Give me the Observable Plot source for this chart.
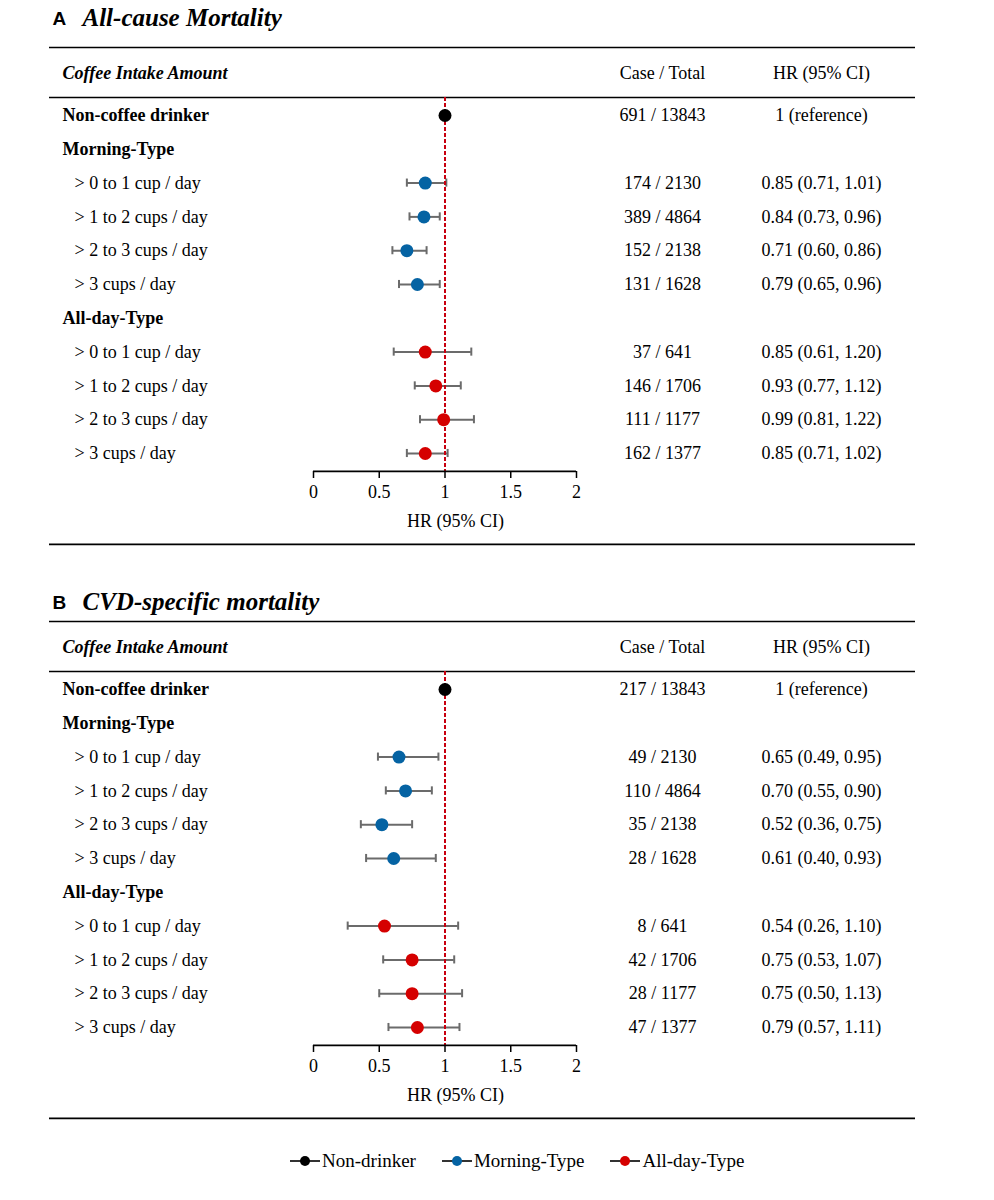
<!DOCTYPE html>
<html>
<head>
<meta charset="utf-8">
<script src="https://cdn.jsdelivr.net/npm/d3@7"></script>
<script src="https://cdn.jsdelivr.net/npm/@observablehq/plot@0.6"></script>
<style>
  body { margin: 0; background: #fff; }
  #chart { width: 994px; }
  #chart svg { display: block; }
  .legend { height: 26px; display: flex; justify-content: flex-start; align-items: center;
    font-family: "Liberation Serif", "Times New Roman", serif; font-size: 19px; color: #000; padding-left: 290px; }
  .legend .item { display: flex; align-items: center; margin-right: 26px; }
  .legend svg { margin-right: 2px; }
</style>
</head>
<body>
<div id="chart"></div>
<script>
// ---- data ----
const rowLabels = ["Non-coffee drinker", "Morning-Type", "> 0 to 1 cup / day", "> 1 to 2 cups / day", "> 2 to 3 cups / day", "> 3 cups / day",
  "All-day-Type", "> 0 to 1 cup / day", "> 1 to 2 cups / day", "> 2 to 3 cups / day", "> 3 cups / day"];
const rowKinds = ["ref", "group", "item", "item", "item", "item", "group", "item", "item", "item", "item"];
const rowGroups = ["Non-drinker", null, "Morning-Type", "Morning-Type", "Morning-Type", "Morning-Type",
  null, "All-day-Type", "All-day-Type", "All-day-Type", "All-day-Type"];
const legendGroups = ["Non-drinker", "Morning-Type", "All-day-Type"];
const groupColors = ["#000000", "#0563a3", "#d50000"];

const titleA = "All-cause Mortality";
const casesA = [691, null, 174, 389, 152, 131, null, 37, 146, 111, 162];
const totalsA = [13843, null, 2130, 4864, 2138, 1628, null, 641, 1706, 1177, 1377];
const hrA = [1, null, 0.85, 0.84, 0.71, 0.79, null, 0.85, 0.93, 0.99, 0.85];
const loA = [1, null, 0.71, 0.73, 0.60, 0.65, null, 0.61, 0.77, 0.81, 0.71];
const hiA = [1, null, 1.01, 0.96, 0.86, 0.96, null, 1.20, 1.12, 1.22, 1.02];

const titleB = "CVD-specific mortality";
const casesB = [217, null, 49, 110, 35, 28, null, 8, 42, 28, 47];
const totalsB = [13843, null, 2130, 4864, 2138, 1628, null, 641, 1706, 1177, 1377];
const hrB = [1, null, 0.65, 0.70, 0.52, 0.61, null, 0.54, 0.75, 0.75, 0.79];
const loB = [1, null, 0.49, 0.55, 0.36, 0.40, null, 0.26, 0.53, 0.50, 0.57];
const hiB = [1, null, 0.95, 0.90, 0.75, 0.93, null, 1.10, 1.07, 1.13, 1.11];

const xTicks = [0, 0.5, 1, 1.5, 2];
const refValue = 1;
const headerLabels = ["Coffee Intake Amount", "Case / Total", "HR (95% CI)"];
const axisTitle = "HR (95% CI)";

// ---- drawing ----
const serif = "'Liberation Serif', 'Times New Roman', serif";
const f2 = d3.format(".2f");
const FS = 18;

function panel(letter, title, cases, totals, hr, lo, hi, titleY) {
  const rows = rowLabels.map((label, i) => ({
    i, label, kind: rowKinds[i], group: rowGroups[i],
    ct: cases[i] == null ? null : `${cases[i]} / ${totals[i]}`,
    hr: hr[i], lo: lo[i], hi: hi[i],
    hrText: hr[i] == null ? null : (rowKinds[i] === "ref" ? `${hr[i]} (reference)` : `${f2(hr[i])} (${f2(lo[i])}, ${f2(hi[i])})`)
  }));
  const items = rows.filter(d => d.kind === "item");
  const pts = rows.filter(d => d.hr != null);
  // layout rows (in row-index units)
  const topRule = -2.012, headY = -1.243, headRule = -0.533, axisY = 10.53, axisTitleY = 12.0, bottomRule = 12.69;
  const capH = 0.12;
  return Plot.plot({
    width: 994,
    height: 574,
    marginLeft: 49,
    marginRight: 79,
    marginTop: 0,
    marginBottom: 103,
    style: { fontFamily: serif, fontSize: FS + "px", color: "#000", background: "#fff" },
    x: { domain: d3.extent(xTicks), range: [313, 576], axis: null },
    y: { domain: [0, 10], range: [115, 453], axis: null },
    color: { domain: legendGroups, range: groupColors },
    marks: [
      // panel title
      Plot.text([letter], { frameAnchor: "left", y: [titleY], dx: 3, textAnchor: "start", fontFamily: "'Liberation Sans', Arial, sans-serif", fontWeight: "bold", fontSize: 19 }),
      Plot.text([title], { frameAnchor: "left", y: [titleY], dx: 33, textAnchor: "start", fontFamily: serif, fontWeight: "bold", fontStyle: "italic", fontSize: 25 }),
      // table rules
      Plot.ruleY([topRule, headRule, bottomRule], { stroke: "#000", strokeWidth: 1.6 }),
      // header
      Plot.text([headerLabels[0]], { frameAnchor: "left", y: [headY], dx: 13, textAnchor: "start", fontWeight: "bold", fontStyle: "italic", fontSize: FS }),
      Plot.text([headerLabels[1]], { frameAnchor: "left", y: [headY], dx: 613, textAnchor: "middle", fontSize: FS }),
      Plot.text([headerLabels[2]], { frameAnchor: "left", y: [headY], dx: 772, textAnchor: "middle", fontSize: FS }),
      // row labels
      Plot.text(rows.filter(d => d.kind !== "item"), { frameAnchor: "left", y: "i", text: "label", dx: 13, textAnchor: "start", fontWeight: "bold", fontSize: FS }),
      Plot.text(items, { frameAnchor: "left", y: "i", text: "label", dx: 25, textAnchor: "start", fontSize: FS }),
      // columns
      Plot.text(rows.filter(d => d.ct), { frameAnchor: "left", y: "i", text: "ct", dx: 613, textAnchor: "middle", fontSize: FS }),
      Plot.text(rows.filter(d => d.hrText), { frameAnchor: "left", y: "i", text: "hrText", dx: 772, textAnchor: "middle", fontSize: FS }),
      // whiskers
      Plot.ruleY(items, { y: "i", x1: "lo", x2: "hi", stroke: "#6b6b6b", strokeWidth: 2 }),
      Plot.ruleX(items, { x: "lo", y1: d => d.i - capH, y2: d => d.i + capH, stroke: "#6b6b6b", strokeWidth: 2 }),
      Plot.ruleX(items, { x: "hi", y1: d => d.i - capH, y2: d => d.i + capH, stroke: "#6b6b6b", strokeWidth: 2 }),
      // reference line
      Plot.ruleX([refValue], { y1: headRule, y2: axisY, stroke: "#c8000f", strokeWidth: 2, strokeDasharray: "4,2" }),
      // points
      Plot.dot(pts, { x: "hr", y: "i", r: 6.5, fill: "group", stroke: null }),
      // axis
      Plot.ruleY([axisY], { x1: d3.min(xTicks), x2: d3.max(xTicks), stroke: "#000", strokeWidth: 1.6 }),
      Plot.axisX({ anchor: "bottom", ticks: xTicks, tickSize: 7, tickPadding: 7, tickFormat: d => String(d), fontSize: FS, label: null, strokeWidth: 1.5 }),
      Plot.text([axisTitle], { frameAnchor: "left", y: [axisTitleY], dx: 406, textAnchor: "middle", fontSize: FS })
    ]
  });
}

const chart = document.getElementById("chart");
chart.append(panel("A", titleA, casesA, totalsA, hrA, loA, hiA, -2.87));
chart.append(panel("B", titleB, casesB, totalsB, hrB, loB, hiB, -2.574));

// legend
const legend = document.createElement("div");
legend.className = "legend";
legendGroups.forEach((g, k) => {
  const item = document.createElement("div");
  item.className = "item";
  item.innerHTML = `<svg width="30" height="14"><line x1="0" y1="7" x2="30" y2="7" stroke="#000" stroke-width="1.6"/><circle cx="15" cy="7" r="5" fill="${groupColors[k]}"/></svg><span>${g}</span>`;
  legend.append(item);
});
chart.append(legend);
</script>
</body>
</html>
